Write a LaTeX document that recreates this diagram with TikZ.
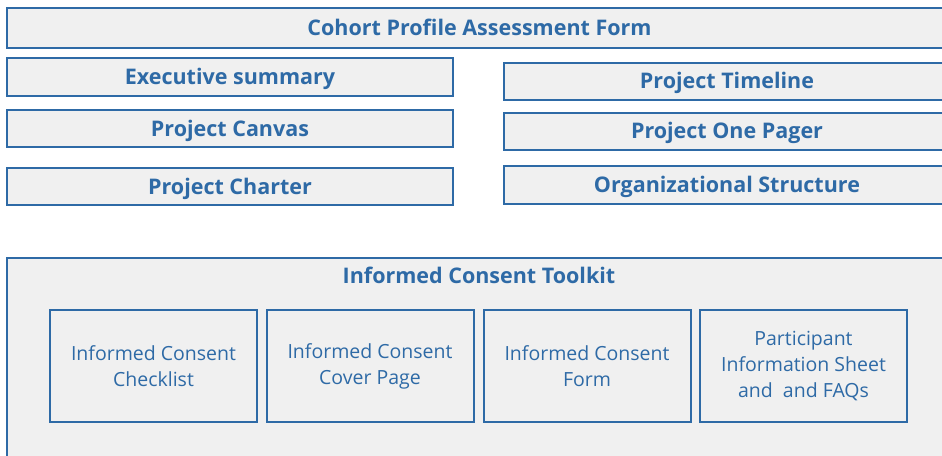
\documentclass[tikz,border=0pt]{standalone}
\usepackage{fontspec}
\setmainfont{Open Sans}
\definecolor{cblue}{RGB}{46,106,166}
\definecolor{cfill}{RGB}{240,240,240}
\begin{document}
\begin{tikzpicture}[x=1pt,y=-1pt,
  box/.style={draw=cblue, fill=cfill, line width=2pt, inner sep=0pt, text=cblue},
  headfont/.style={font=\fontsize{21.5}{26}\selectfont\bfseries, text height=15.4pt, text depth=0pt},
  head/.style={box, headfont},
  inner/.style={box, minimum width=207pt, minimum height=112pt, align=center,
    font=\fontsize{19.5}{26}\selectfont}]
\useasboundingbox (0,0) rectangle (942,455);
\clip (0,0) rectangle (942,455);
\node[head, minimum width=945pt, minimum height=40pt] (cpaf) at (479.5,28) {Cohort Profile Assessment Form};
\node[head, minimum width=446pt, minimum height=37.5pt] (exec) at (230,76.75) {Executive summary};
\node[head, minimum width=446pt, minimum height=37pt] (canvas) at (230,128.5) {Project Canvas};
\node[head, minimum width=446pt, minimum height=37pt] (charter) at (230,186.5) {Project Charter};
\node[head, minimum width=446pt, minimum height=37pt] (timeline) at (727,81) {Project Timeline};
\node[head, minimum width=446pt, minimum height=37.5pt] (onepager) at (727,131.25) {Project One Pager};
\node[head, minimum width=446pt, minimum height=37.5pt] (org) at (727,184.75) {Organizational Structure};
\node[box, minimum width=945pt, minimum height=210pt, anchor=north] (toolkit) at (479.5,257) {};
\node[text=cblue, inner sep=0pt, headfont] (tktitle) at (479,276) {Informed Consent Toolkit};
\node[inner] (check) at (153.5,366) {Informed Consent\\Checklist};
\node[inner] (cover) at (370,366) {Informed Consent\\Cover Page};
\node[inner] (form) at (587,366) {Informed Consent\\Form};
\node[inner] (pis) at (803.5,366) {Participant\\Information Sheet\\and\ \ and FAQs};
\end{tikzpicture}
\end{document}
